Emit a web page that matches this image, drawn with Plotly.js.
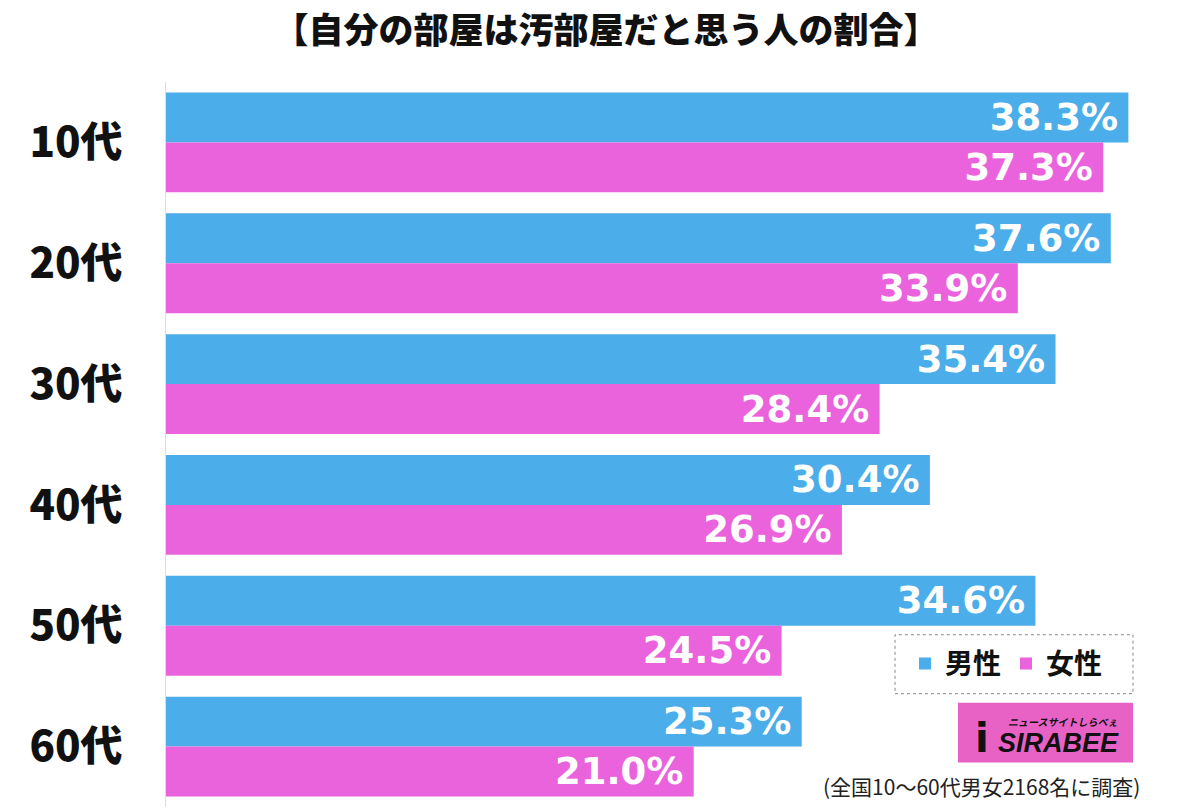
<!DOCTYPE html>
<html>
<head>
<meta charset="utf-8">
<script src="https://cdn.plot.ly/plotly-3.0.1.min.js"></script>
<style>html,body{margin:0;padding:0;background:#fff;}#chart{width:1200px;height:811px;}</style>
</head>
<body>
<div id="chart"></div>
<script>
const categories = ["10代", "20代", "30代", "40代", "50代", "60代"];
const maleValues = [38.3, 37.6, 35.4, 30.4, 34.6, 25.3];
const femaleValues = [37.3, 33.9, 28.4, 26.9, 24.5, 21.0];
const seriesNames = ["男性", "女性"];
const titleText = "【自分の部屋は汚部屋だと思う人の割合】";
const noteText = "(全国10〜60代男女2168名に調査)";

const W = 1200, H = 811;
const mL = 166, mT = 81.5, mB = 3.5;
const pw = W - mL, ph = H - mT - mB;
function px(x){ return (x - mL) / pw; }
function py(y){ return (H - mB - y) / ph; }

const valFont = {family: "DejaVu Sans", size: 37, color: "#ffffff", weight: "bold"};
const common = {
  type: "bar", orientation: "h", y: categories,
  texttemplate: "%{x:.1f}%\u2009",
  textposition: "inside", insidetextanchor: "end", textangle: 0,
  constraintext: "none",
  textfont: valFont, hoverinfo: "skip", cliponaxis: false
};
const data = [
  Object.assign({}, common, {name: seriesNames[0], x: maleValues, marker: {color: "#4BADE9"}}),
  Object.assign({}, common, {name: seriesNames[1], x: femaleValues, marker: {color: "#EA63DD"}})
];

const layout = {
  width: W, height: H,
  margin: {l: mL, r: 0, t: mT, b: mB, pad: 0},
  paper_bgcolor: "#ffffff", plot_bgcolor: "#ffffff",
  barmode: "group", bargap: 0.174, bargroupgap: 0,
  showlegend: true,
  title: {text: titleText, x: 606 / W, xref: "container", xanchor: "center",
          y: 1 - 31 / H, yref: "container", yanchor: "middle",
          font: {family: "Noto Sans CJK JP", size: 35, color: "#111111", weight: 900}},
  xaxis: {range: [0, 41.15], showgrid: false, zeroline: false, showticklabels: false,
          showline: false, fixedrange: true},
  yaxis: {autorange: "reversed", showgrid: false, zeroline: false,
          showline: true, linecolor: "#dddddd", linewidth: 1,
          ticks: "", ticklabelstandoff: 34,
          tickfont: {family: "Noto Sans CJK JP", size: 42, color: "#111111", weight: 900}},
  legend: {orientation: "h", x: px(905), xanchor: "left", y: py(664), yanchor: "middle",
           bgcolor: "rgba(0,0,0,0)", borderwidth: 0,
           font: {family: "Noto Sans CJK JP", size: 28, color: "#111111", weight: "bold"},
           itemwidth: 30, tracegroupgap: 0},
  shapes: [
    {type: "rect", xref: "paper", yref: "paper", x0: px(895), x1: px(1133), y0: py(694), y1: py(635),
     line: {color: "#888888", width: 1, dash: "dot"}, fillcolor: "rgba(0,0,0,0)"},
    {type: "rect", xref: "paper", yref: "paper", x0: px(958), x1: px(1133), y0: py(763), y1: py(703),
     line: {width: 0}, fillcolor: "#E862C6"}
  ],
  annotations: [
    {xref: "paper", yref: "paper", x: px(982), y: py(738), xanchor: "center", yanchor: "middle",
     text: "<b>i</b>", showarrow: false,
     font: {family: "DejaVu Sans", size: 40, color: "#111111"}},
    {xref: "paper", yref: "paper", x: px(1121), y: py(743), xanchor: "right", yanchor: "middle",
     text: "<b><i>SIRABEE</i></b>", showarrow: false,
     font: {family: "Liberation Sans", size: 27, color: "#111111"}},
    {xref: "paper", yref: "paper", x: px(1120), y: py(722), xanchor: "right", yanchor: "middle",
     text: "<b><i>ニュースサイトしらべぇ</i></b>", showarrow: false,
     font: {family: "Noto Sans CJK JP", size: 10, color: "#111111"}},
    {xref: "paper", yref: "paper", x: px(1142), y: py(786), xanchor: "right", yanchor: "middle",
     text: noteText, showarrow: false,
     font: {family: "Noto Sans CJK JP", size: 21, color: "#222222"}}
  ]
};

Plotly.newPlot("chart", data, layout, {displayModeBar: false, staticPlot: true});
</script>
</body>
</html>
